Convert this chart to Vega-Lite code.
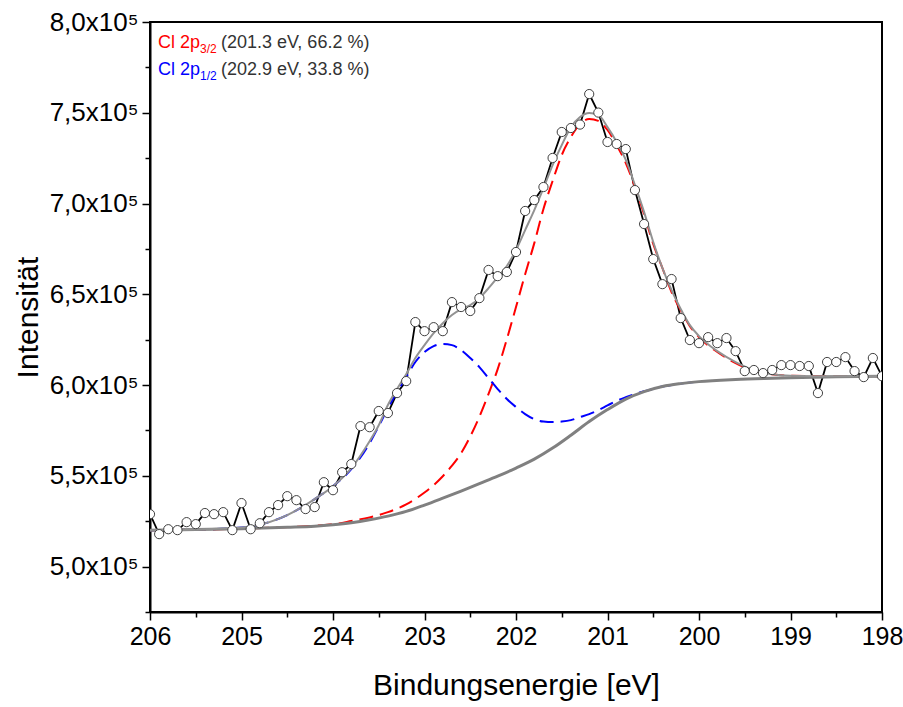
{
  "$schema": "https://vega.github.io/schema/vega-lite/v6.json",
  "width": 732,
  "height": 590,
  "autosize": {"type": "none"},
  "padding": {"left": 150, "top": 22, "right": 21, "bottom": 95},
  "background": "white",
  "config": {
    "view": {"stroke": "#000000", "strokeWidth": 2},
    "font": "Liberation Sans",
    "axis": {"grid": false, "labelFlush": false, "domainColor": "#000000", "domainWidth": 2, "tickColor": "#000000", "tickWidth": 1.5, "labelColor": "#000000", "titleColor": "#000000", "labelFont": "Liberation Sans", "titleFont": "Liberation Sans", "titleFontWeight": "normal"}
  },
  "datasets": {
    "pts": [
      {"E":206.0,"I":528900},{"E":205.9,"I":517900},{"E":205.8,"I":520600},{"E":205.7,"I":520100},{"E":205.6,"I":524500},
      {"E":205.5,"I":523400},{"E":205.4,"I":529500},{"E":205.3,"I":528900},{"E":205.2,"I":530000},{"E":205.1,"I":520100},
      {"E":205.0,"I":535000},{"E":204.9,"I":520600},{"E":204.8,"I":523900},{"E":204.7,"I":530000},{"E":204.6,"I":533900},
      {"E":204.5,"I":538800},{"E":204.4,"I":536600},{"E":204.3,"I":531700},{"E":204.2,"I":532800},{"E":204.1,"I":546500},
      {"E":204.0,"I":542100},{"E":203.9,"I":552000},{"E":203.8,"I":556500},{"E":203.7,"I":577400},{"E":203.6,"I":576800},
      {"E":203.5,"I":585700},{"E":203.4,"I":584600},{"E":203.3,"I":595600},{"E":203.2,"I":602200},{"E":203.1,"I":634700},
      {"E":203.0,"I":629700},{"E":202.9,"I":631900},{"E":202.8,"I":629700},{"E":202.7,"I":645700},{"E":202.6,"I":643000},
      {"E":202.5,"I":640800},{"E":202.4,"I":647900},{"E":202.3,"I":663400},{"E":202.2,"I":660000},{"E":202.1,"I":662300},
      {"E":202.0,"I":673300},{"E":201.9,"I":695900},{"E":201.8,"I":701900},{"E":201.7,"I":709100},{"E":201.6,"I":725100},
      {"E":201.5,"I":739400},{"E":201.4,"I":741600},{"E":201.3,"I":743500},{"E":201.2,"I":760300},{"E":201.1,"I":750100},
      {"E":201.0,"I":733900},{"E":200.9,"I":732800},{"E":200.8,"I":730000},{"E":200.7,"I":707400},{"E":200.6,"I":688700},
      {"E":200.5,"I":669400},{"E":200.4,"I":655600},{"E":200.3,"I":658400},{"E":200.2,"I":636900},{"E":200.1,"I":624800},
      {"E":200.0,"I":623100},{"E":199.9,"I":626400},{"E":199.8,"I":623100},{"E":199.7,"I":625900},{"E":199.6,"I":618700},
      {"E":199.5,"I":607700},{"E":199.4,"I":608300},{"E":199.3,"I":606600},{"E":199.2,"I":608300},{"E":199.1,"I":611000},
      {"E":199.0,"I":611000},{"E":198.9,"I":610500},{"E":198.8,"I":610500},{"E":198.7,"I":595600},{"E":198.6,"I":612700},
      {"E":198.5,"I":612700},{"E":198.4,"I":615400},{"E":198.3,"I":607700},{"E":198.2,"I":604400},{"E":198.1,"I":614900},
      {"E":198.0,"I":604900}
    ],
    "bg": [
      {"E":206.0,"I":520100},{"E":205.5,"I":520400},{"E":205.0,"I":520900},{"E":204.5,"I":521700},{"E":204.2,"I":522300},
      {"E":204.0,"I":523100},{"E":203.8,"I":524200},{"E":203.6,"I":525800},{"E":203.4,"I":527800},{"E":203.2,"I":530400},
      {"E":203.0,"I":533900},{"E":202.8,"I":537700},{"E":202.6,"I":541600},{"E":202.4,"I":545700},{"E":202.2,"I":549800},
      {"E":202.0,"I":554300},{"E":201.8,"I":559200},{"E":201.6,"I":565300},{"E":201.4,"I":572400},{"E":201.2,"I":579900},
      {"E":201.0,"I":586500},{"E":200.8,"I":592300},{"E":200.6,"I":596400},{"E":200.4,"I":599200},{"E":200.2,"I":600800},
      {"E":200.0,"I":601900},{"E":199.6,"I":603100},{"E":199.2,"I":603800},{"E":199.0,"I":604100},{"E":198.5,"I":604600},
      {"E":198.0,"I":604800}
    ],
    "red": [
      {"E":206.0,"I":520100},{"E":205.0,"I":520900},{"E":204.0,"I":523400},{"E":203.8,"I":525100},{"E":203.6,"I":527100},
      {"E":203.4,"I":530000},{"E":203.2,"I":534300},{"E":203.0,"I":540800},{"E":202.9,"I":544900},{"E":202.8,"I":549800},
      {"E":202.7,"I":555600},{"E":202.6,"I":562500},{"E":202.5,"I":571700},{"E":202.4,"I":582600},{"E":202.3,"I":595200},
      {"E":202.2,"I":608800},{"E":202.1,"I":625300},{"E":202.0,"I":643000},{"E":201.9,"I":661100},{"E":201.8,"I":678200},
      {"E":201.7,"I":697000},{"E":201.6,"I":712400},{"E":201.5,"I":726700},{"E":201.4,"I":736600},{"E":201.3,"I":743800},
      {"E":201.2,"I":746600},{"E":201.1,"I":745500},{"E":201.0,"I":740500},{"E":200.9,"I":732200},{"E":200.8,"I":722300},
      {"E":200.7,"I":709100},{"E":200.6,"I":694200},{"E":200.5,"I":677700},{"E":200.4,"I":664500},{"E":200.3,"I":651200},
      {"E":200.2,"I":641300},{"E":200.1,"I":632500},{"E":200.0,"I":626400},{"E":199.8,"I":618200},{"E":199.6,"I":612100},
      {"E":199.4,"I":608000},{"E":199.2,"I":606000},{"E":199.0,"I":605200},{"E":198.5,"I":604900},{"E":198.0,"I":604900}
    ],
    "blue": [
      {"E":206.0,"I":520100},{"E":205.5,"I":520400},{"E":205.0,"I":521500},{"E":204.5,"I":528400},{"E":204.2,"I":537200},
      {"E":204.0,"I":544300},{"E":203.8,"I":553700},{"E":203.6,"I":568000},{"E":203.5,"I":577400},{"E":203.4,"I":587300},
      {"E":203.3,"I":596100},{"E":203.2,"I":604400},{"E":203.1,"I":612700},{"E":203.0,"I":618200},{"E":202.9,"I":621500},
      {"E":202.8,"I":622600},{"E":202.7,"I":622000},{"E":202.6,"I":619300},{"E":202.5,"I":614900},{"E":202.4,"I":609900},
      {"E":202.3,"I":603800},{"E":202.2,"I":597800},{"E":202.1,"I":592300},{"E":202.0,"I":587900},{"E":201.9,"I":584000},
      {"E":201.8,"I":581200},{"E":201.7,"I":579900},{"E":201.6,"I":579600},{"E":201.5,"I":579900},{"E":201.4,"I":580700},
      {"E":201.3,"I":582400},{"E":201.2,"I":584000},{"E":201.1,"I":586200},{"E":201.0,"I":588800},{"E":200.9,"I":591300},
      {"E":200.8,"I":593300},{"E":200.7,"I":595100},{"E":200.6,"I":596600},{"E":200.5,"I":597900},{"E":200.4,"I":599200},
      {"E":200.2,"I":600800},{"E":200.0,"I":601900}
    ],
    "env": [
      {"E":206.0,"I":520100},{"E":205.5,"I":520400},{"E":205.0,"I":521500},{"E":204.5,"I":528400},{"E":204.2,"I":537200},
      {"E":204.0,"I":544300},{"E":203.8,"I":554300},{"E":203.6,"I":569100},{"E":203.5,"I":577900},{"E":203.4,"I":589000},
      {"E":203.3,"I":597800},{"E":203.2,"I":606000},{"E":203.1,"I":614900},{"E":203.0,"I":622000},{"E":202.9,"I":628600},
      {"E":202.8,"I":634100},{"E":202.7,"I":638600},{"E":202.6,"I":641900},{"E":202.5,"I":644100},{"E":202.4,"I":647900},
      {"E":202.3,"I":653400},{"E":202.2,"I":659500},{"E":202.1,"I":665600},{"E":202.0,"I":674400},{"E":201.9,"I":685400},
      {"E":201.8,"I":696400},{"E":201.7,"I":708500},{"E":201.6,"I":721200},{"E":201.5,"I":732200},{"E":201.4,"I":742100},
      {"E":201.3,"I":747700},{"E":201.2,"I":749900},{"E":201.1,"I":748800},{"E":201.0,"I":742100},{"E":200.9,"I":733900},
      {"E":200.8,"I":724000},{"E":200.7,"I":710200},{"E":200.6,"I":695300},{"E":200.5,"I":678800},{"E":200.4,"I":664500},
      {"E":200.3,"I":652300},{"E":200.2,"I":641900},{"E":200.1,"I":633000},{"E":200.0,"I":627000},{"E":199.8,"I":618700},
      {"E":199.6,"I":612700},{"E":199.4,"I":608300},{"E":199.2,"I":606000},{"E":199.0,"I":605200},{"E":198.5,"I":604900},
      {"E":198.0,"I":604900}
    ],
    "leg": [
      {"comp":"Cl 2p3/2","name":"Cl 2p","sub":"3/2","rest":"(201.3 eV, 66.2 %)","E":205.913,"I":785700},
      {"comp":"Cl 2p1/2","name":"Cl 2p","sub":"1/2","rest":"(202.9 eV, 33.8 %)","E":205.913,"I":771000}
    ]
  },
  "resolve": {"axis": {"x": "independent", "y": "independent"}},
  "layer": [
    {
      "data": {"name": "pts"},
      "mark": {"type": "line", "color": "#000000", "strokeWidth": 1.8, "clip": true},
      "encoding": {
        "x": {"field": "E", "type": "quantitative", "scale": {"domain": [198, 206], "reverse": true, "nice": false, "zero": false},
          "axis": {"orient": "bottom", "values": [198,199,200,201,202,203,204,205,206], "format": "d", "labelFontSize": 25, "tickSize": 8, "labelPadding": 4, "title": "Bindungsenergie [eV]", "titleFontSize": 30, "titlePadding": 21}},
        "y": {"field": "I", "type": "quantitative", "scale": {"domain": [475000, 800000], "nice": false, "zero": false},
          "axis": {"orient": "left", "values": [500000,550000,600000,650000,700000,750000,800000], "labelExpr": "replace(format(datum.value/100000, '.1f'), '.', ',') + 'x10⁵'", "labelFontSize": 26, "tickSize": 8, "labelPadding": 4, "title": "Intensität", "titleFontSize": 30, "titlePadding": 6}}
      }
    },
    {
      "data": {"name": "red"},
      "mark": {"type": "line", "color": "#ff0000", "strokeWidth": 2, "strokeDash": [14, 7], "interpolate": "monotone", "clip": true},
      "encoding": {"x": {"field": "E", "type": "quantitative", "axis": null}, "y": {"field": "I", "type": "quantitative", "axis": null}}
    },
    {
      "data": {"name": "blue"},
      "mark": {"type": "line", "color": "#0000ff", "strokeWidth": 2, "strokeDash": [14, 7], "interpolate": "monotone", "clip": true},
      "encoding": {"x": {"field": "E", "type": "quantitative", "axis": null}, "y": {"field": "I", "type": "quantitative", "axis": null}}
    },
    {
      "data": {"name": "bg"},
      "mark": {"type": "line", "color": "#808080", "strokeWidth": 3, "interpolate": "monotone", "clip": true},
      "encoding": {"x": {"field": "E", "type": "quantitative", "axis": null}, "y": {"field": "I", "type": "quantitative", "axis": null}}
    },
    {
      "data": {"name": "env"},
      "mark": {"type": "line", "color": "#929292", "strokeWidth": 2, "interpolate": "monotone", "clip": true},
      "encoding": {"x": {"field": "E", "type": "quantitative", "axis": null}, "y": {"field": "I", "type": "quantitative", "axis": null}}
    },
    {
      "data": {"name": "pts"},
      "mark": {"type": "point", "shape": "circle", "filled": true, "fill": "#ffffff", "stroke": "#404040", "strokeWidth": 1, "size": 85, "opacity": 1, "clip": true},
      "encoding": {
        "x": {"field": "E", "type": "quantitative",
          "axis": {"orient": "bottom", "values": [198.5,199.5,200.5,201.5,202.5,203.5,204.5,205.5], "labels": false, "domain": false, "tickSize": 5, "title": null}},
        "y": {"field": "I", "type": "quantitative",
          "axis": {"orient": "left", "values": [475000,525000,575000,625000,675000,725000,775000], "labels": false, "domain": false, "tickSize": 5, "title": null}}
      }
    },
    {
      "data": {"name": "leg"},
      "mark": {"type": "text", "align": "left", "baseline": "alphabetic", "fontSize": 18, "font": "Liberation Sans"},
      "encoding": {
        "x": {"field": "E", "type": "quantitative", "axis": null},
        "y": {"field": "I", "type": "quantitative", "axis": null},
        "text": {"field": "name"},
        "color": {"field": "comp", "type": "nominal", "scale": {"domain": ["Cl 2p3/2", "Cl 2p1/2"], "range": ["#ff0000", "#0000ff"]}, "legend": null}
      }
    },
    {
      "data": {"name": "leg"},
      "mark": {"type": "text", "align": "left", "baseline": "alphabetic", "fontSize": 12, "dx": 42, "dy": 5, "font": "Liberation Sans"},
      "encoding": {
        "x": {"field": "E", "type": "quantitative", "axis": null},
        "y": {"field": "I", "type": "quantitative", "axis": null},
        "text": {"field": "sub"},
        "color": {"field": "comp", "type": "nominal", "legend": null}
      }
    },
    {
      "data": {"name": "leg"},
      "mark": {"type": "text", "align": "left", "baseline": "alphabetic", "fontSize": 18, "dx": 63, "color": "#333333", "font": "Liberation Sans"},
      "encoding": {
        "x": {"field": "E", "type": "quantitative", "axis": null},
        "y": {"field": "I", "type": "quantitative", "axis": null},
        "text": {"field": "rest"}
      }
    }
  ]
}
